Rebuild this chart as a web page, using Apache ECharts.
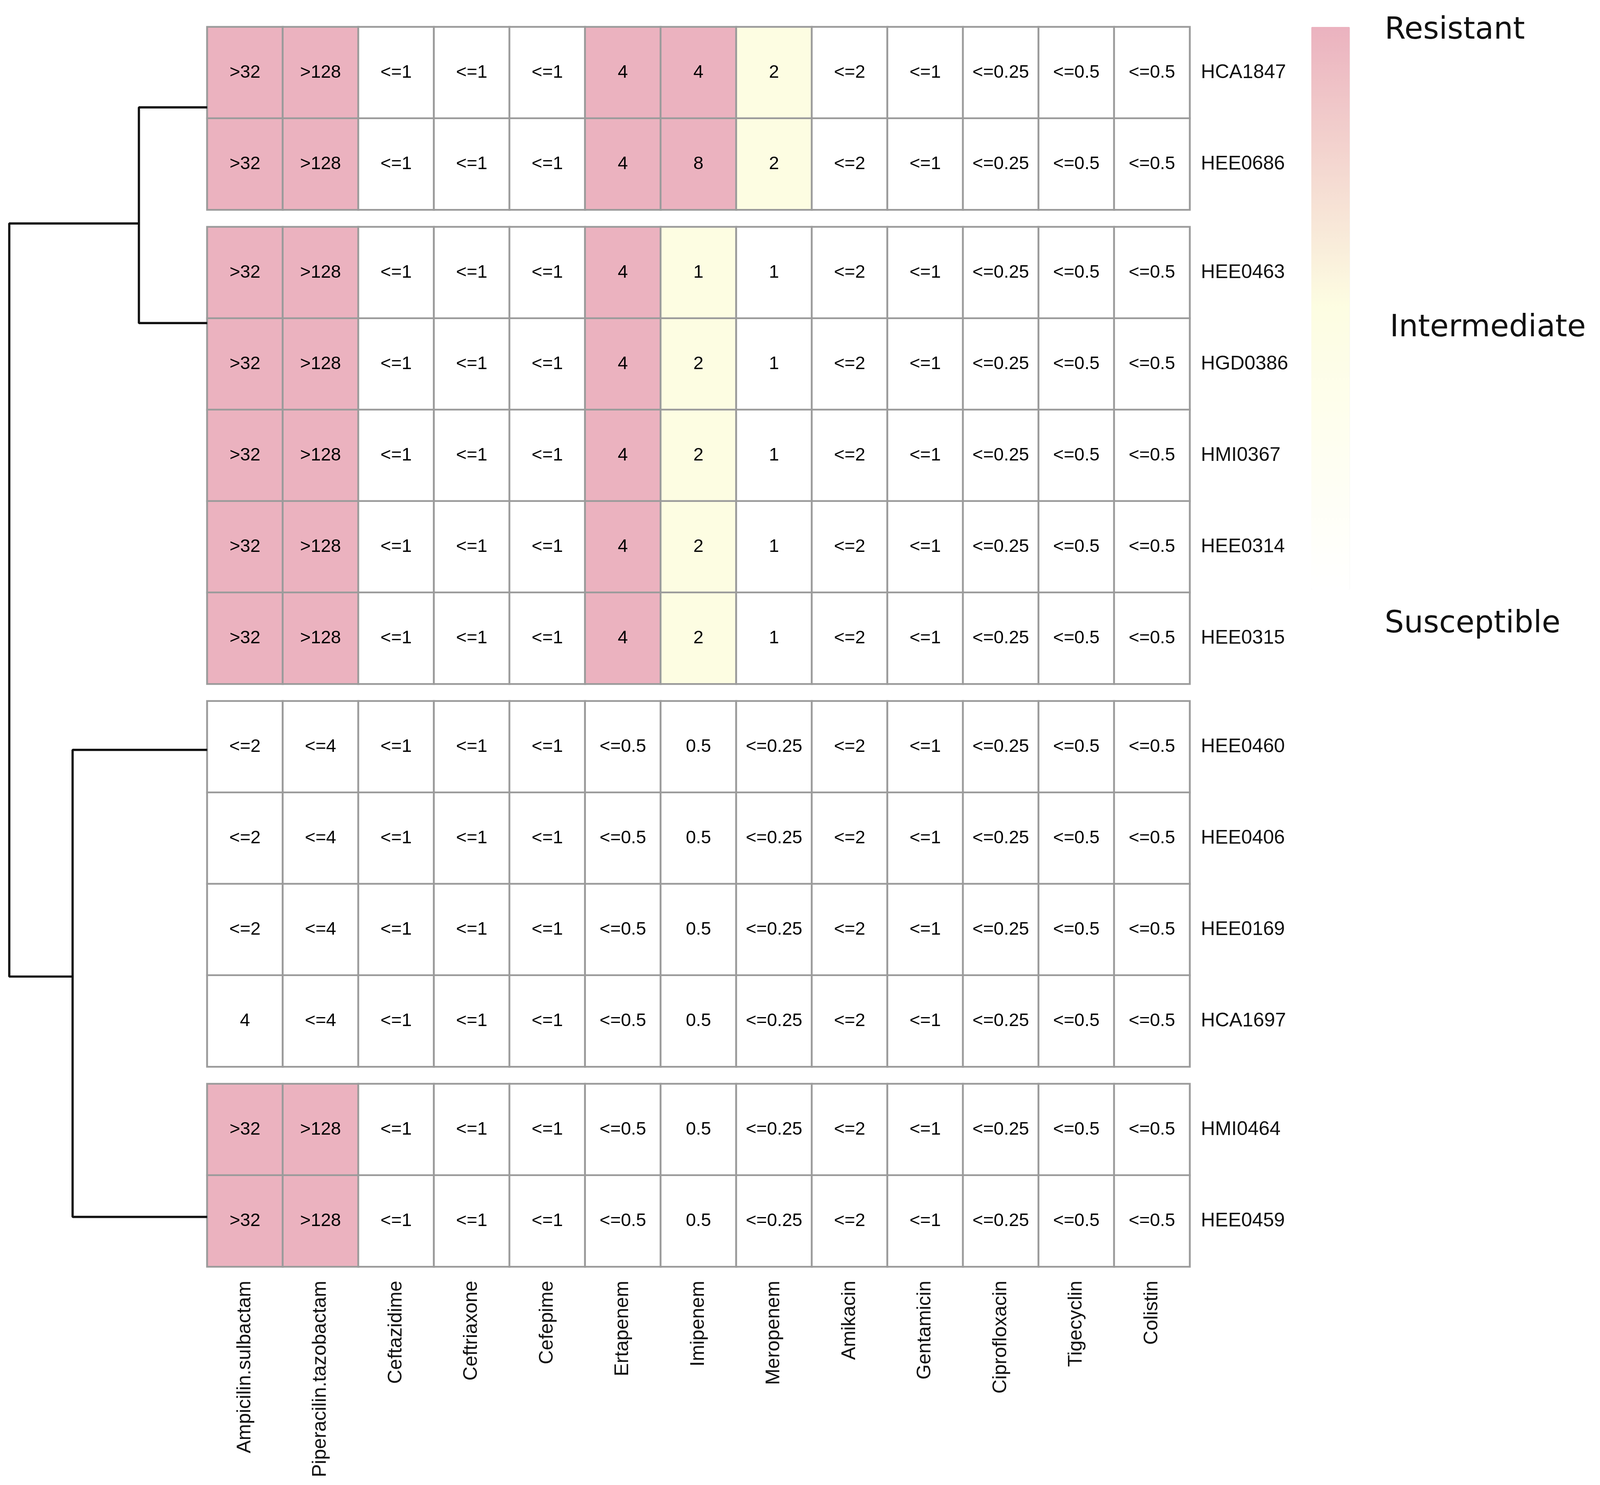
<!DOCTYPE html>
<html>
<head>
<meta charset="utf-8">
<script src="https://cdn.jsdelivr.net/npm/echarts@6/dist/echarts.min.js"></script>
<style>
html,body{margin:0;padding:0;background:#fff;overflow:hidden;}
#chart{width:100vw;height:100vh;}
</style>
</head>
<body>
<div id="chart"></div>
<script>
// ---------- data ----------
const antibiotics = ['Ampicilin.sulbactam','Piperacilin.tazobactam','Ceftazidime','Ceftriaxone','Cefepime','Ertapenem','Imipenem','Meropenem','Amikacin','Gentamicin','Ciprofloxacin','Tigecyclin','Colistin'];
const isolates = ['HCA1847','HEE0686','HEE0463','HGD0386','HMI0367','HEE0314','HEE0315','HEE0460','HEE0406','HEE0169','HCA1697','HMI0464','HEE0459'];
const clusterSizes = [2, 5, 4, 2];
const micValues = [
  ['>32','>128','<=1','<=1','<=1','4','4','2','<=2','<=1','<=0.25','<=0.5','<=0.5'],
  ['>32','>128','<=1','<=1','<=1','4','8','2','<=2','<=1','<=0.25','<=0.5','<=0.5'],
  ['>32','>128','<=1','<=1','<=1','4','1','1','<=2','<=1','<=0.25','<=0.5','<=0.5'],
  ['>32','>128','<=1','<=1','<=1','4','2','1','<=2','<=1','<=0.25','<=0.5','<=0.5'],
  ['>32','>128','<=1','<=1','<=1','4','2','1','<=2','<=1','<=0.25','<=0.5','<=0.5'],
  ['>32','>128','<=1','<=1','<=1','4','2','1','<=2','<=1','<=0.25','<=0.5','<=0.5'],
  ['>32','>128','<=1','<=1','<=1','4','2','1','<=2','<=1','<=0.25','<=0.5','<=0.5'],
  ['<=2','<=4','<=1','<=1','<=1','<=0.5','0.5','<=0.25','<=2','<=1','<=0.25','<=0.5','<=0.5'],
  ['<=2','<=4','<=1','<=1','<=1','<=0.5','0.5','<=0.25','<=2','<=1','<=0.25','<=0.5','<=0.5'],
  ['<=2','<=4','<=1','<=1','<=1','<=0.5','0.5','<=0.25','<=2','<=1','<=0.25','<=0.5','<=0.5'],
  ['4','<=4','<=1','<=1','<=1','<=0.5','0.5','<=0.25','<=2','<=1','<=0.25','<=0.5','<=0.5'],
  ['>32','>128','<=1','<=1','<=1','<=0.5','0.5','<=0.25','<=2','<=1','<=0.25','<=0.5','<=0.5'],
  ['>32','>128','<=1','<=1','<=1','<=0.5','0.5','<=0.25','<=2','<=1','<=0.25','<=0.5','<=0.5']
];
// 2 = Resistant, 1 = Intermediate, 0 = Susceptible
const statusCodes = [
  [2,2,0,0,0,2,2,1,0,0,0,0,0],
  [2,2,0,0,0,2,2,1,0,0,0,0,0],
  [2,2,0,0,0,2,1,0,0,0,0,0,0],
  [2,2,0,0,0,2,1,0,0,0,0,0,0],
  [2,2,0,0,0,2,1,0,0,0,0,0,0],
  [2,2,0,0,0,2,1,0,0,0,0,0,0],
  [2,2,0,0,0,2,1,0,0,0,0,0,0],
  [0,0,0,0,0,0,0,0,0,0,0,0,0],
  [0,0,0,0,0,0,0,0,0,0,0,0,0],
  [0,0,0,0,0,0,0,0,0,0,0,0,0],
  [0,0,0,0,0,0,0,0,0,0,0,0,0],
  [2,2,0,0,0,0,0,0,0,0,0,0,0],
  [2,2,0,0,0,0,0,0,0,0,0,0,0]
];
const legendLabels = ['Resistant','Intermediate','Susceptible'];
// dendrogram branches: [height, row position]
const dendroTop = [[0,0.88],[0.345,0.88],[0.345,3.24],[0,3.24]];
const dendroBottom = [[0,7.91],[0.68,7.91],[0.68,13.02],[0,13.02]];
const dendroRoot = [[0.345,2.15],[1,2.15],[1,10.39],[0.68,10.39]];

// ---------- layout (reference pixels, scaled to the viewport) ----------
const chart = echarts.init(document.getElementById('chart'));
const sx = chart.getWidth() / 4317, sy = chart.getHeight() / 3802, fs = Math.min(sx, sy);
const heatLeft = 559, heatRight = 3210;
const rowH = 234, gapH = 44, topY = 69;
const cellFont = "'Liberation Sans',Arial,sans-serif";
const labelFont = "'Liberation Sans',Arial,sans-serif";
const legendFont = "'DejaVu Sans',sans-serif";

const grids = [], xAxes = [], yAxes = [], series = [];
let y = topY, start = 0;
clusterSizes.forEach((n, bi) => {
  const h = n * rowH;
  grids.push({left: heatLeft * sx, width: (heatRight - heatLeft) * sx, top: y * sy, height: h * sy});
  const last = bi === clusterSizes.length - 1;
  xAxes.push({
    type: 'category', gridIndex: bi, data: antibiotics,
    axisLine: {show: false}, axisTick: {show: false}, splitLine: {show: false},
    axisLabel: {show: last, rotate: 90, margin: 36 * sy, fontSize: 50 * sy, color: '#111', fontFamily: labelFont, interval: 0}
  });
  const rows = isolates.slice(start, start + n);
  yAxes.push({
    type: 'category', gridIndex: bi, data: rows, inverse: true, position: 'right',
    axisLine: {show: false}, axisTick: {show: false}, splitLine: {show: false},
    axisLabel: {margin: 30 * sx, fontSize: 53 * sx, color: '#111', fontFamily: labelFont}
  });
  const data = [];
  for (let r = 0; r < n; r++) {
    for (let c = 0; c < antibiotics.length; c++) {
      data.push({value: [c, r, statusCodes[start + r][c]], mic: micValues[start + r][c]});
    }
  }
  series.push({
    type: 'heatmap', xAxisIndex: bi, yAxisIndex: bi, data: data,
    itemStyle: {borderColor: '#9b9b9b', borderWidth: 5 * fs},
    label: {show: true, formatter: p => p.data.mic, fontSize: 49 * sx, color: '#000', fontFamily: cellFont},
    emphasis: {disabled: true}
  });
  y += h + gapH;
  start += n;
});
const heatBottom = y - gapH;

// dendrogram grid
const dg = grids.length;
grids.push({left: 25 * sx, width: (heatLeft - 25) * sx, top: topY * sy, height: (heatBottom - topY) * sy});
xAxes.push({type: 'value', gridIndex: dg, min: 0, max: 1, inverse: true, show: false});
yAxes.push({type: 'value', gridIndex: dg, min: 0, max: (heatBottom - topY) / rowH, inverse: true, show: false});
[dendroTop, dendroBottom, dendroRoot].forEach(d => {
  series.push({
    type: 'line', xAxisIndex: dg, yAxisIndex: dg, data: d, symbol: 'none',
    lineStyle: {color: '#111', width: 6 * fs}, silent: true
  });
});

const option = {
  animation: false,
  backgroundColor: '#fff',
  grid: grids, xAxis: xAxes, yAxis: yAxes, series: series,
  visualMap: {
    type: 'continuous', min: 0, max: 2, dimension: 2,
    seriesIndex: [0,1,2,3], calculable: false, hoverLink: false,
    left: 3538 * sx, top: 69 * sy, padding: 0, itemWidth: 104 * sx, itemHeight: 1440 * sy,
    text: ['', ''], showLabel: false,
    inRange: {color: ['#ffffff', '#fdfde2', '#ebb2bf']}
  },
  graphic: [
    {type: 'text', left: 3736 * sx, top: 40 * sy, style: {text: legendLabels[0], fontSize: 82 * sx, fontFamily: legendFont, fill: '#111'}},
    {type: 'text', left: 3750 * sx, top: 802 * sy, style: {text: legendLabels[1], fontSize: 82 * sx, fontFamily: legendFont, fill: '#111'}},
    {type: 'text', left: 3736 * sx, top: 1560 * sy, style: {text: legendLabels[2], fontSize: 82 * sx, fontFamily: legendFont, fill: '#111'}}
  ]
};
chart.setOption(option);
</script>
</body>
</html>
